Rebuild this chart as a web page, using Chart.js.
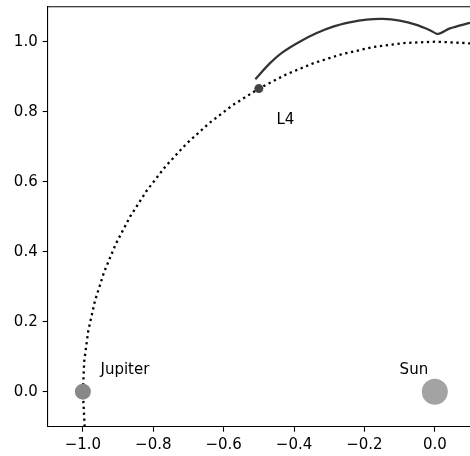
<!DOCTYPE html>
<html>
<head>
<meta charset="utf-8">
<script src="https://cdn.jsdelivr.net/npm/chart.js@4"></script>
<style>
  html, body { margin: 0; padding: 0; background: #fff; overflow: hidden; }
  canvas { display: block; }
</style>
</head>
<body>
<canvas id="c" width="470" height="456"></canvas>
<script>
// ---- data ----
const xTicks = [-1.0, -0.8, -0.6, -0.4, -0.2, 0.0];
const yTicks = [0.0, 0.2, 0.4, 0.6, 0.8, 1.0];

// Jupiter's orbit (dotted)
const orbitX = [-0.995, -1.000, -0.9962, -0.9848, -0.9659, -0.9397, -0.9063, -0.8660, -0.8192, -0.7660, -0.7071, -0.6428, -0.5736, -0.5000, -0.4226, -0.3420, -0.2588, -0.1736, -0.0872, 0.0000, 0.0872, 0.1000];
const orbitY = [-0.100, 0.000, 0.0872, 0.1736, 0.2588, 0.3420, 0.4226, 0.5000, 0.5736, 0.6428, 0.7071, 0.7660, 0.8192, 0.8660, 0.9063, 0.9397, 0.9659, 0.9848, 0.9962, 1.0000, 0.9962, 0.9950];

// trajectory (solid)
const pathX = [-0.510, -0.469, -0.432, -0.384, -0.337, -0.289, -0.242, -0.194, -0.147, -0.100, -0.052, -0.014, 0.009, 0.043, 0.100];
const pathY = [0.893, 0.938, 0.970, 1.000, 1.024, 1.043, 1.055, 1.063, 1.065, 1.060, 1.048, 1.033, 1.022, 1.038, 1.054];

// bodies
const bodyNames = ['L4', 'Jupiter', 'Sun'];
const bodyX = [-0.5, -1.0, 0.0];
const bodyY = [0.866, 0.0, 0.0];

// text labels
const labelTexts = ['L4', 'Jupiter', 'Sun'];
const labelX = [-0.45, -0.95, -0.10];
const labelY = [0.766, 0.05, 0.05];

// ---- styles ----
const FONT = '"DejaVu Sans", sans-serif';
const FSIZE = 15;
const bodyColors = ['#444444', '#888888', '#a3a3a3'];
const bodyRadii = [4.5, 8, 13];

const toPts = (xs, ys) => xs.map((x, i) => ({ x: x, y: ys[i] }));
const fmt = v => {
  const s = Math.abs(v) < 1e-9 ? '0.0' : v.toFixed(1);
  return s.replace('-', '\u2212');
};

const datasets = [];
bodyNames.forEach((n, i) => {
  datasets.push({
    label: n,
    data: [{ x: bodyX[i], y: bodyY[i] }],
    pointRadius: bodyRadii[i],
    pointBackgroundColor: bodyColors[i],
    pointBorderWidth: 0,
    pointBorderColor: bodyColors[i],
    showLine: false,
    order: 0
  });
});
datasets.push({
  label: 'path',
  data: toPts(pathX, pathY),
  showLine: true,
  borderColor: '#333333',
  borderWidth: 2.2,
  pointRadius: 0,
  tension: 0.25,
  order: 1
});
datasets.push({
  label: 'orbit',
  data: toPts(orbitX, orbitY),
  showLine: true,
  borderColor: '#000000',
  borderWidth: 2.3,
  borderDash: [2.3, 3.6],
  borderCapStyle: 'butt',
  pointRadius: 0,
  tension: 0,
  order: 2
});

const frame = {
  id: 'frame',
  afterDraw(chart) {
    const { ctx, chartArea } = chart;
    ctx.save();
    ctx.strokeStyle = '#000';
    ctx.lineWidth = 1.1;
    ctx.beginPath();
    ctx.moveTo(chartArea.left - 0.5, chartArea.top);
    ctx.lineTo(chartArea.right, chartArea.top);
    ctx.stroke();
    ctx.restore();
  }
};

const texts = {
  id: 'texts',
  afterDatasetsDraw(chart) {
    const { ctx, scales } = chart;
    ctx.save();
    ctx.fillStyle = '#000';
    ctx.font = FSIZE + 'px ' + FONT;
    ctx.textAlign = 'left';
    ctx.textBaseline = 'alphabetic';
    labelTexts.forEach((t, i) => {
      ctx.fillText(t, scales.x.getPixelForValue(labelX[i]), scales.y.getPixelForValue(labelY[i]));
    });
    ctx.restore();
  }
};

new Chart(document.getElementById('c'), {
  type: 'scatter',
  data: { datasets },
  plugins: [frame, texts],
  options: {
    responsive: false,
    animation: false,
    layout: { autoPadding: false, padding: { top: 6.7, right: 0, left: 0, bottom: 0 } },
    plugins: { legend: { display: false }, tooltip: { enabled: false } },
    scales: {
      x: {
        type: 'linear',
        min: -1.1, max: 0.1,
        afterBuildTicks: s => { s.ticks = xTicks.map(v => ({ value: v })); },
        afterFit: s => { s.height = 29.3; s.paddingLeft = 0; s.paddingRight = 0; },
        grid: { display: true, drawOnChartArea: false, drawTicks: true, tickLength: 5, tickWidth: 1.1, tickColor: '#000' },
        border: { display: true, color: '#000', width: 1.1 },
        ticks: { color: '#000', font: { family: FONT, size: FSIZE }, padding: 4, maxRotation: 0, autoSkip: false, callback: v => fmt(v) }
      },
      y: {
        type: 'linear',
        min: -0.1, max: 1.1,
        afterBuildTicks: s => { s.ticks = yTicks.map(v => ({ value: v })); },
        afterFit: s => { s.width = 47.7; s.paddingTop = 0; s.paddingBottom = 0; },
        grid: { display: true, drawOnChartArea: false, drawTicks: true, tickLength: 5, tickWidth: 1.1, tickColor: '#000' },
        border: { display: true, color: '#000', width: 1.1 },
        ticks: { color: '#000', font: { family: FONT, size: FSIZE }, padding: 5, autoSkip: false, callback: v => fmt(v) }
      }
    }
  }
});
</script>
</body>
</html>
